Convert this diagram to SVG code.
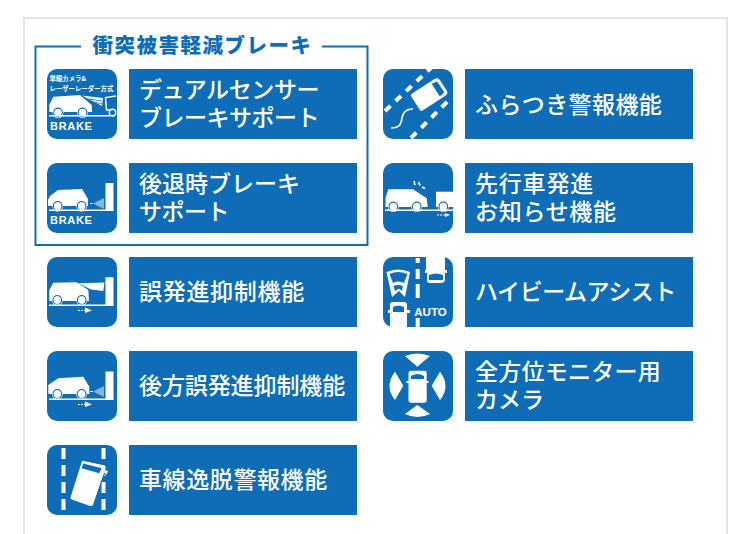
<svg xmlns="http://www.w3.org/2000/svg" width="739" height="534" viewBox="0 0 739 534">
<style>
.lab{fill:#0f6db7}
.ic{fill:#0f6db7}
.t{font-family:"Noto Sans CJK JP","Noto Sans",sans-serif;font-size:23px;font-weight:500;fill:#fff}
.w{fill:#fff}
.wl{stroke:#fff;fill:none}
.bl{stroke:#0f6db7;fill:none}
.b{font-family:"Liberation Sans",sans-serif;font-weight:700;fill:#fff;font-size:11px;letter-spacing:.7px}
.s{font-family:"Noto Sans CJK JP",sans-serif;font-weight:700;fill:#fff;font-size:6.4px}
</style>
<defs>
<g id="wheel"><circle class="w" r="5.500"/><circle class="bl" r="4.300" stroke-width="1.200"/><circle class="w" r="3.500"/></g>
</defs>
<rect width="739" height="534" fill="#fff"/>
<path d="M24 534V18H727V534" fill="none" stroke="#e3e3e3" stroke-width="2"/>

<g id="frame">
<path d="M81 46.500H35.500V245H367.500V46.500H322" fill="none" stroke="#0f6db7" stroke-width="2"/>
<text x="92.500" y="53" font-family="'Noto Sans CJK JP',sans-serif" font-size="20.500px" font-weight="900" fill="#0f6db7" letter-spacing="1.500">衝突被害軽減ブレーキ</text>
</g>

<g id="node-dual">
<rect class="ic" x="47" y="69" width="70" height="70" rx="10"/>
<rect class="lab" x="129" y="69" width="228" height="70"/>
<text class="s" x="49.500" y="80.500">単眼カメラ&amp;</text>
<text class="s" x="49.500" y="91">レーザーレーダー方式</text>
<path class="w" d="M49.300 112V105L53.300 96.700L80 95L91.700 105L92 112Z"/>
<use href="#wheel" x="58" y="112.500"/><use href="#wheel" x="82.500" y="112.500"/>
<path class="w" d="M82 95.500L103 98L102 106Z"/>
<path class="bl" stroke-width=".8" d="M88 99L102 101M92 102L102 103.500"/>
<path class="wl" stroke-width="1.400" d="M116 96L105.500 97.500L106.500 110H110"/>
<circle class="wl" stroke-width="1.400" cx="112.500" cy="112.500" r="3.200"/>
<rect class="w" x="49" y="115" width="66" height="1.500"/>
<text class="b" x="50" y="129.500">BRAKE</text>
<text class="t" x="139" y="98" letter-spacing="-.4">デュアルセンサー</text>
<text class="t" x="139" y="126" letter-spacing="-.5">ブレーキサポート</text>
</g>

<g id="node-back">
<rect class="ic" x="47" y="163" width="70" height="70" rx="10"/>
<rect class="lab" x="129" y="163" width="228" height="70"/>
<path class="w" d="M48 206V200L50 196L58 190L82 189L88 199V206Z"/>
<use href="#wheel" x="57.700" y="206"/><use href="#wheel" x="81.700" y="206"/>
<rect class="w" x="105.500" y="183" width="8" height="27"/>
<rect class="w" x="49" y="209.500" width="64.500" height="1.500"/>
<path class="wl" d="M90 203.500h3M95 202.500v2M97 201.500v4M99 200.500v6M101 199.500v8M103 198.500v10" stroke-width="1"/>
<text class="b" x="50" y="223.500">BRAKE</text>
<text class="t" x="139" y="192">後退時ブレーキ</text>
<text class="t" x="139" y="220" letter-spacing="-.5">サポート</text>
</g>

<g id="node-misstart">
<rect class="ic" x="47" y="257" width="70" height="70" rx="10"/>
<rect class="lab" x="129" y="257" width="228" height="70"/>
<path class="w" d="M49.300 301V290L53.300 282.700L76.700 282.300L88.300 290L89 301Z"/>
<use href="#wheel" x="57.300" y="300"/><use href="#wheel" x="81.700" y="300"/>
<path class="w" d="M78.300 283.300L104.500 282.500L103.300 291L91 289.500Z"/>
<rect class="w" x="105.500" y="277.300" width="8" height="27.700"/>
<rect class="w" x="49" y="304.500" width="64.500" height="1.500"/>
<path class="wl" stroke-width="1" stroke-dasharray="2 1" d="M78 310.500h7"/><path class="w" d="M85 307.500L92 310.500L85 313Z"/>
<text class="t" x="139" y="300" letter-spacing=".7">誤発進抑制機能</text>
</g>

<g id="node-backmis">
<rect class="ic" x="47" y="351" width="70" height="70" rx="10"/>
<rect class="lab" x="129" y="351" width="228" height="70"/>
<path class="w" d="M48.300 394V385L58.300 378.300L83.300 376.700L89.300 386.700V394Z"/>
<use href="#wheel" x="57.300" y="394"/><use href="#wheel" x="81.700" y="394"/>
<rect class="w" x="105.500" y="371.500" width="8" height="27.500"/>
<rect class="w" x="49" y="398.500" width="64.500" height="1.500"/>
<path class="wl" d="M90 391.500h3M95 390.500v2M97 389.500v4M99 388.500v6M101 387.500v8M103 386.500v10" stroke-width="1"/>
<path class="wl" stroke-width="1" stroke-dasharray="2 1" d="M78 404.500h7"/><path class="w" d="M85 401.500L92 404.500L85 407Z"/>
<text class="t" x="139" y="394" letter-spacing="-.1">後方誤発進抑制機能</text>
</g>

<g id="node-lane">
<rect class="ic" x="47" y="445" width="70" height="70" rx="10"/>
<rect class="lab" x="129" y="445" width="228" height="70"/>
<path class="wl" stroke-width="4" stroke-dasharray="11 6" d="M63.500 448V515M103.500 448V515"/>
<path d="M81.700 460L105 465Q107 466 106 469L93.500 505Q92.500 507 90 506.500L71.500 500Q69.500 499 70 497Z" class="w" stroke="#0f6db7" stroke-width="1.200"/>
<path class="ic" d="M83.300 463.500L101.700 468.300L99.300 473.300L81.700 468.300Z"/>
<path class="w" d="M105 470l3 1l-1 3l-3-1Z"/>
<text class="t" x="139" y="488" letter-spacing=".6">車線逸脱警報機能</text>
</g>

<g id="node-wobble">
<rect class="ic" x="383" y="69" width="70" height="70" rx="10"/>
<rect class="lab" x="465" y="69" width="228" height="70"/>
<path class="wl" stroke-width="4" stroke-dasharray="7.500 7" d="M385 111L433 66M411 138L448 101"/>
<g transform="translate(429,94.500) rotate(-33)">
<path class="w" d="M-16 -8Q-16 -10 -14 -10H13Q17 -10 17 -6V6Q17 10 13 10H-14Q-16 10 -16 8Z"/>
<path class="ic" d="M8 -7.500L14 -6.500V6.500L8 7.500Z"/>
</g>
<path class="wl" stroke-width="1.600" d="M391 128C400 128 401 124 402 118C403 111 408 109 413 109"/>
<text class="t" x="475" y="113" letter-spacing=".4">ふらつき警報機能</text>
</g>

<g id="node-start">
<rect class="ic" x="383" y="163" width="70" height="70" rx="10"/>
<rect class="lab" x="465" y="163" width="228" height="70"/>
<path class="w" d="M385.500 207V198L388.300 189.300H413L426.700 198.300L427.700 207Z"/>
<use href="#wheel" x="393.300" y="206.500"/><use href="#wheel" x="416.700" y="206.500"/>
<path class="w" d="M436 191.700H453V207H436Z"/>
<use href="#wheel" x="443.300" y="206.500"/>
<rect class="w" x="385" y="209.500" width="68" height="1.500"/>
<path class="wl" stroke-width="1.600" d="M414 181l1 4M418.500 182l1.500 3.500M422 187l3 1.500"/>
<path class="wl" stroke-width="1" stroke-dasharray="2 1" d="M437 215h8"/><path class="w" d="M445 213L450 215L445 217Z"/>
<text class="t" x="475" y="192" letter-spacing=".8">先行車発進</text>
<text class="t" x="475" y="220" letter-spacing=".7">お知らせ機能</text>
</g>

<g id="node-highbeam">
<rect class="ic" x="383" y="257" width="70" height="70" rx="10"/>
<rect class="lab" x="465" y="257" width="228" height="70"/>
<path class="wl" stroke-width="4" d="M417.700 258V263M417.700 269V279M417.700 284V298M417.700 318V327"/>
<path class="w" d="M386.500 272Q398 267 410 272L405 297L399 291L392 297Z"/>
<path class="ic" d="M389.500 274Q398 270 407.500 274L404 283Q398 280 393 283Z"/>
<path class="ic" d="M393.500 286Q398 284 403 286L402 291L399 288.500L395 291Z"/>
<path class="w" d="M390 305Q390 302 393 302H404Q407 302 407 305V310H410V313H407V327H390V313H388V310H390Z"/>
<path class="ic" d="M393 307Q398 304 404 307V312H393Z"/>
<path class="w" d="M426 257H445V270H447V273H445L445 280Q444 283 441 283H430Q427 283 427 280V273H425V270H426Z"/>
<path class="ic" d="M429 275Q436 272 443 275V280H429Z"/>
<text x="414.300" y="315.500" font-family="'Liberation Sans',sans-serif" font-size="11.500px" font-weight="700" fill="#fff">AUTO</text>
<text class="t" x="475" y="300" letter-spacing="-.45">ハイビームアシスト</text>
</g>

<g id="node-camera">
<rect class="ic" x="383" y="351" width="70" height="70" rx="10"/>
<rect class="lab" x="465" y="351" width="228" height="70"/>
<path class="w" d="M405 356Q417.500 351 430 356L417.300 366.700Z"/>
<path class="w" d="M405 414Q417.500 420 430 414L417.300 405Z"/>
<path class="w" d="M395 371.700Q384 386 395 400L403.300 385.700Z"/>
<path class="w" d="M440 371.700Q451 386 440 400L431.700 385.700Z"/>
<path class="w" d="M408.500 373Q408.500 370.700 411 370.700H424Q426.700 370.700 426.700 373V381H428.500V383H426.700V400Q426.700 402.700 424 402.700H411Q408.500 402.700 408.500 400V383H406.500V381H408.500Z"/>
<path class="ic" d="M411 376Q417.500 372 424 376V379H411Z"/>
<text class="t" x="475" y="380" letter-spacing=".25">全方位モニター用</text>
<text class="t" x="475" y="408">カメラ</text>
</g>
</svg>
